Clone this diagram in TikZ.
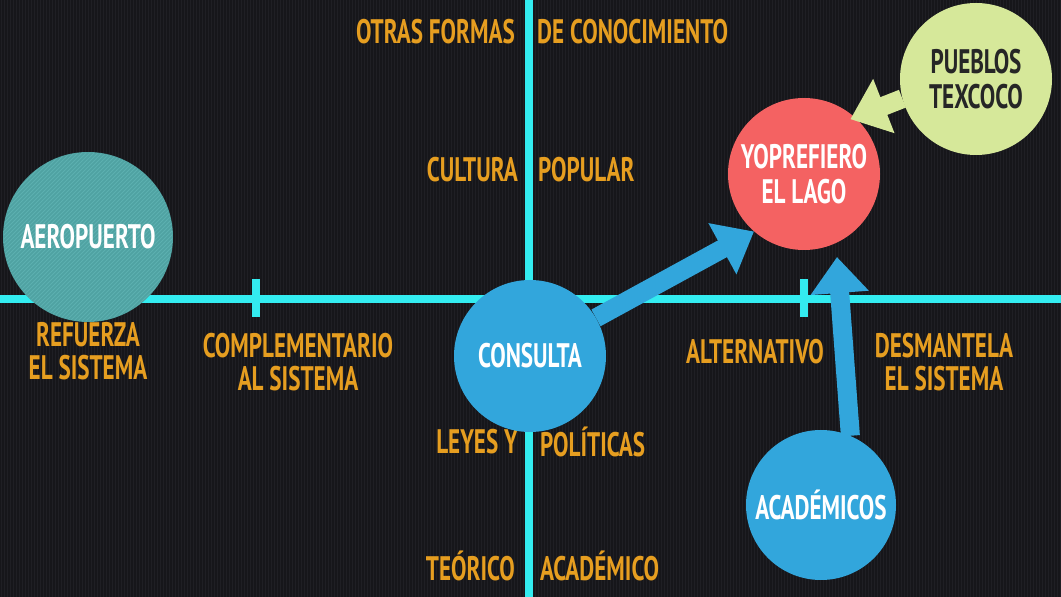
\documentclass[tikz,border=0pt]{standalone}
\usepackage{fontspec}
\newfontfamily\din[FakeStretch=0.68]{PT Sans}
\usetikzlibrary{arrows.meta}
\definecolor{bgc}{RGB}{22,22,26}
\definecolor{stripec}{RGB}{31,31,36}
\definecolor{axisc}{RGB}{51,236,240}
\definecolor{labc}{RGB}{230,158,32}
\definecolor{tealc}{RGB}{79,162,162}
\definecolor{tealh}{RGB}{92,176,176}
\definecolor{bluec}{RGB}{50,166,220}
\definecolor{redc}{RGB}{244,98,98}
\definecolor{greenc}{RGB}{214,232,154}
\definecolor{darktxt}{RGB}{38,38,38}
\tikzset{
  lab/.style={font=\din\bfseries\fontsize{34}{33}\selectfont, text=labc, inner sep=0pt, align=center},
  bub/.style={circle, inner sep=0pt, font=\din\bfseries\fontsize{34}{35}\selectfont, text=white, align=center},
  axisline/.style={draw=axisc, line width=8pt},
  bigarrow/.style={line width=19pt, -{Triangle[width=56pt 0 1,length=36pt 0 1]}},
}
\begin{document}
\begin{tikzpicture}[x=1pt,y=1pt]
\useasboundingbox (0,0) rectangle (1061,597);
\fill[bgc] (0,0) rectangle (1061,597);
\foreach \x in {1,4,...,1061} \draw[stripec, line width=1pt] (\x,0) -- (\x,597);
% axes
\draw[axisline] (0,298) -- (1061,298);
\draw[axisline] (529,0) -- (529,597);
\draw[axisline] (256,280) -- (256,318);
\draw[axisline] (803.5,280) -- (803.5,318);
% axis labels
\node[lab, anchor=east] (otras) at (515,565) {OTRAS FORMAS};
\node[lab, anchor=west] (deconoc) at (537,565) {DE CONOCIMIENTO};
\node[lab, anchor=east] (cultura) at (518,427) {CULTURA};
\node[lab, anchor=west] (popular) at (538,427) {POPULAR};
\node[lab, anchor=east] (leyes) at (518,155) {LEYES Y};
\node[lab, anchor=west] (politicas) at (540,155) {POLÍTICAS};
\node[lab, anchor=east] (teorico) at (515,31) {TEÓRICO};
\node[lab, anchor=west] (academico) at (540,31) {ACADÉMICO};
\node[lab] (refuerza) at (88,246) {REFUERZA\\EL SISTEMA};
\node[lab] (complem) at (298,235) {COMPLEMENTARIO\\AL SISTEMA};
\node[lab] (altern) at (755,245) {ALTERNATIVO};
\node[lab] (desmant) at (944,235) {DESMANTELA\\EL SISTEMA};
% bubbles
\node[bub, fill=tealc, minimum size=170pt] (aero) at (88,360) {};
\begin{scope}
  \clip (aero.center) circle (84.5pt);
  \foreach \k in {-200,-196,...,200} \draw[tealh, line width=0.8pt] (\k,270) -- (\k+180,450);
\end{scope}
\node[bub, minimum size=170pt] (aerotxt) at (aero.center) {AEROPUERTO};
\node[bub, fill=bluec, minimum size=152pt] (consulta) at (530,241) {CONSULTA};
\node[bub, fill=redc, minimum size=152pt] (lago) at (804,423) {YOPREFIERO\\EL LAGO};
\node[bub, fill=greenc, minimum size=152pt, text=darktxt] (pueblos) at (976,518) {PUEBLOS\\TEXCOCO};
\node[bub, fill=bluec, minimum size=150pt] (acad) at (821,92) {ACADÉMICOS};
\coordinate (acadtip) at (837,340);
% arrows
\draw[bigarrow, bluec] (consulta.30) -- (lago.229);
\draw[bigarrow, bluec] (acad.67) -- (acadtip);
\draw[bigarrow, greenc, shorten >=-5pt] (pueblos.195) -- (lago.48);
\end{tikzpicture}
\end{document}
